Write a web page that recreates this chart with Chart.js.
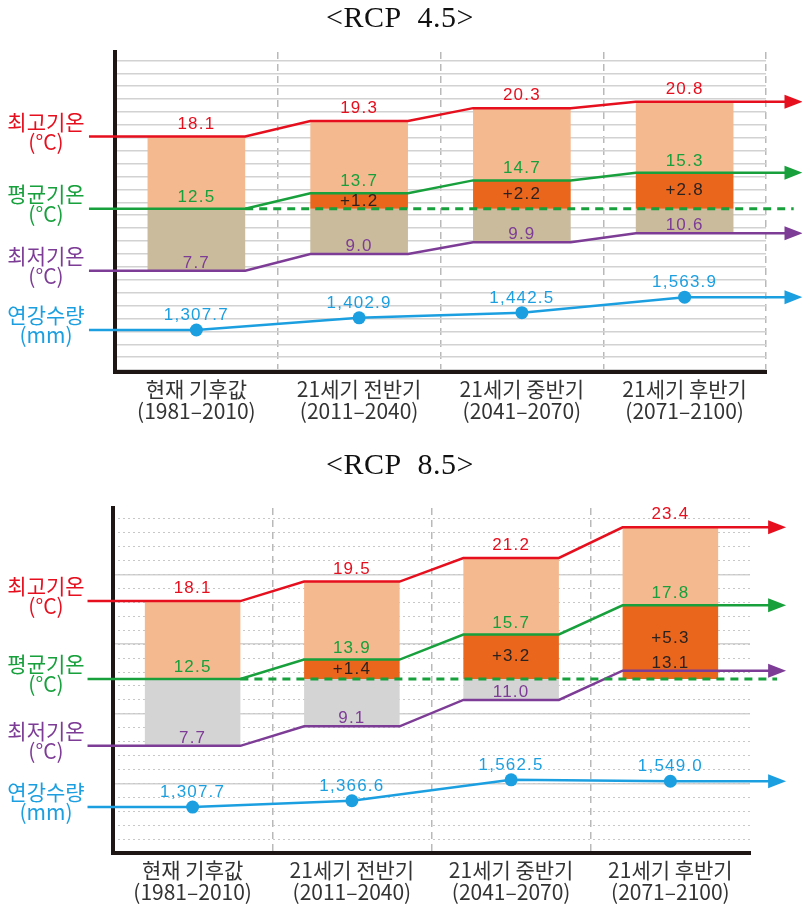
<!DOCTYPE html>
<html>
<head>
<meta charset="utf-8">
<script src="https://cdn.jsdelivr.net/npm/chart.js@4.4.1/dist/chart.umd.min.js"></script>
<style>
  body { margin: 0; background: #fff; }
  canvas { display: block; }
</style>
</head>
<body>
<canvas id="chart45" width="802" height="440"></canvas>
<canvas id="chart85" width="802" height="464"></canvas>
<script>
// 데이터
const categories = ['현재 기후값', '21세기 전반기', '21세기 중반기', '21세기 후반기'];
const periods = ['(1981–2010)', '(2011–2040)', '(2041–2070)', '(2071–2100)'];
const seriesNames = ['최고기온', '평균기온', '최저기온', '연강수량'];
const seriesUnits = ['(°C)', '(°C)', '(°C)', '(mm)'];

const rcp45Max = [18.1, 19.3, 20.3, 20.8];
const rcp45Mean = [12.5, 13.7, 14.7, 15.3];
const rcp45Min = [7.7, 9.0, 9.9, 10.6];
const rcp45Rain = [1307.7, 1402.9, 1442.5, 1563.9];

const rcp85Max = [18.1, 19.5, 21.2, 23.4];
const rcp85Mean = [12.5, 13.9, 15.7, 17.8];
const rcp85Min = [7.7, 9.1, 11.0, 13.1];
const rcp85Rain = [1307.7, 1366.6, 1562.5, 1549.0];

// 색상
const RED = '#e60f1e', GREEN = '#17a03c', PURPLE = '#7d3c96', BLUE = '#1c9fe0';
const PEACH = '#f5b98f', ORANGE = '#ea661c';
const AXIS_BLACK = '#1e1614';
const KR_FONT = '21px "Noto Sans CJK KR"';
const NUM_FONT = '17px "Liberation Sans"';

// 선이 막대 밖으로 뻗는 위치 (x축 단위)
const X_START = -0.16, X_END = 4.12, HALF = 0.3;

function stepPoints(vals) {
  const pts = [{x: X_START, y: vals[0]}];
  vals.forEach((v, i) => {
    if (i > 0) pts.push({x: i + 0.5 - HALF, y: v});
    if (i < vals.length - 1) pts.push({x: i + 0.5 + HALF, y: v});
  });
  pts.push({x: X_END, y: vals[vals.length - 1]});
  return pts;
}

function put(ctx, str, x, y, color, font, baseline, spacing) {
  ctx.save();
  ctx.font = font;
  ctx.fillStyle = color;
  ctx.textAlign = 'center';
  ctx.textBaseline = baseline || 'alphabetic';
  ctx.letterSpacing = spacing || '1.2px';
  ctx.fillText(str, x, y);
  ctx.restore();
}

function lineSet(data, color, yAxisID, extra) {
  return Object.assign({
    type: 'line', data: data, xAxisID: 'x', yAxisID: yAxisID,
    borderColor: color, backgroundColor: color, borderWidth: 2.5,
    pointRadius: 0, tension: 0, clip: false, order: 0
  }, extra || {});
}

function makeChart(canvasId, p) {
  const base = p.mean[0];
  const centers = p.mean.map((v, i) => i + 0.5);

  const peach = p.mean.map((m, i) => ({x: centers[i], y: [m, p.max[i]]}));
  const rise = p.mean.map((m, i) => ({x: centers[i], y: [base, m]})).filter((d, i) => i > 0);
  const low = p.min.map((m, i) => ({x: centers[i], y: [m, base]})).filter(d => d.y[0] < base);
  const rainPts = [{x: X_START, y: p.rain[0]}]
    .concat(p.rain.map((v, i) => ({x: centers[i], y: v})))
    .concat([{x: X_END, y: p.rain[p.rain.length - 1]}]);
  const lastRain = rainPts.length - 1;

  const overlay = {
    id: 'overlay',
    afterDatasetsDraw(chart) {
      const ctx = chart.ctx;
      const xs = chart.scales.x, ys = chart.scales.y, yr = chart.scales.y2;

      // 제목
      put(ctx, p.title, 400, p.titleY, '#111', '30px "Liberation Serif"', 'middle', '0.5px');

      // 화살표
      chart.data.datasets.forEach((ds, di) => {
        if (!ds.arrow) return;
        const pts = chart.getDatasetMeta(di).data;
        const end = pts[pts.length - 1];
        ctx.save();
        ctx.fillStyle = ds.borderColor;
        ctx.beginPath();
        ctx.moveTo(end.x - 1, end.y - 7);
        ctx.lineTo(end.x + 17, end.y);
        ctx.lineTo(end.x - 1, end.y + 7);
        ctx.closePath();
        ctx.fill();
        ctx.restore();
      });

      // 왼쪽 범례 글자
      const lefts = [[p.max[0], RED, ys], [p.mean[0], GREEN, ys], [p.min[0], PURPLE, ys], [p.rain[0], BLUE, yr]];
      lefts.forEach(([v, c, sc], k) => {
        const py = sc.getPixelForValue(v);
        put(ctx, seriesNames[k], 46, py - 15, c, KR_FONT, 'middle', '0px');
        put(ctx, seriesUnits[k], 46, py + 5, c, KR_FONT, 'middle', '0px');
      });

      // 값 라벨
      centers.forEach((c, i) => {
        const px = xs.getPixelForValue(c);
        put(ctx, p.max[i].toFixed(1), px, ys.getPixelForValue(p.max[i]) - 8, RED, NUM_FONT);
        put(ctx, p.mean[i].toFixed(1), px, ys.getPixelForValue(p.mean[i]) - 7, GREEN, NUM_FONT);
        const minColor = p.min[i] > base ? '#2b2220' : PURPLE;
        put(ctx, p.min[i].toFixed(1), px, ys.getPixelForValue(p.min[i]) - 3, minColor, NUM_FONT);
        const rainTxt = p.rain[i].toLocaleString('en-US', {minimumFractionDigits: 1, maximumFractionDigits: 1});
        put(ctx, rainTxt, px, yr.getPixelForValue(p.rain[i]) - 10, BLUE, NUM_FONT);
        if (i > 0) {
          const bottom = Math.max(base, p.min[i]);
          const mid = (ys.getPixelForValue(p.mean[i]) + ys.getPixelForValue(bottom)) / 2;
          put(ctx, '+' + (p.mean[i] - base).toFixed(1), px, mid, '#2b2220', NUM_FONT, 'middle');
        }
      });
    }
  };

  const noWidth = axis => { axis.width = 0; };
  const gridScales = {
    y: {
      axis: 'y', position: 'left', min: p.tMin, max: p.tMax, afterFit: noWidth,
      ticks: { display: false, stepSize: p.majorStep, includeBounds: false },
      grid: { color: '#d2d2d2', lineWidth: 1.5, drawTicks: false },
      border: { color: AXIS_BLACK, width: 4 }
    }
  };
  if (p.minorStep) {
    gridScales.yd = {
      axis: 'y', position: 'left', min: p.tMin, max: p.tMax, afterFit: noWidth,
      ticks: { display: false, stepSize: p.minorStep, includeBounds: false },
      grid: { color: '#c8c8c8', lineWidth: 1, drawTicks: false },
      border: { display: false, dash: [2, 3] }
    };
  }

  return new Chart(document.getElementById(canvasId), {
    data: {
      datasets: [
        lineSet(stepPoints(p.max), RED, 'y', { arrow: true }),
        lineSet(stepPoints(p.mean), GREEN, 'y', { arrow: true }),
        lineSet([{x: 0.8, y: base}, {x: 4.17, y: base}], GREEN, 'y', { borderWidth: 3, borderDash: [8, 6] }),
        lineSet(stepPoints(p.min), PURPLE, 'y', { arrow: true }),
        lineSet(rainPts, BLUE, 'y2', {
          arrow: true,
          pointRadius: ctx => (ctx.dataIndex === 0 || ctx.dataIndex === lastRain) ? 0 : 6.5,
          pointBorderWidth: 0
        }),
        { type: 'bar', data: peach, xAxisID: 'x', yAxisID: 'y', backgroundColor: PEACH, order: 1 },
        { type: 'bar', data: rise, xAxisID: 'x', yAxisID: 'y', backgroundColor: ORANGE, order: 1 },
        { type: 'bar', data: low, xAxisID: 'x', yAxisID: 'y', backgroundColor: p.lowColor, order: 1 }
      ]
    },
    options: {
      responsive: false,
      animation: false,
      events: [],
      layout: { padding: { left: p.left, right: 802 - p.right, top: p.top, bottom: 0 } },
      datasets: { bar: { grouped: false, categoryPercentage: 1, barPercentage: 0.6, borderWidth: 0 } },
      plugins: {
        legend: { display: false },
        tooltip: { enabled: false },
        title: { display: false }
      },
      scales: Object.assign({
        x: {
          type: 'linear', axis: 'x', position: 'bottom', min: 0, max: 4, offset: false,
          afterBuildTicks: axis => { axis.ticks = centers.map(v => ({ value: v })); },
          afterFit: axis => { axis.height = p.axisHeight; },
          ticks: {
            callback: (value, index) => [categories[index], periods[index]],
            font: { family: 'Noto Sans CJK KR', size: 21, lineHeight: 1.02 },
            color: '#333', padding: p.labelPad, maxRotation: 0, autoSkip: false
          },
          grid: { display: false, offset: false },
          border: { color: AXIS_BLACK, width: 4 }
        },
        xg: {
          type: 'linear', axis: 'x', position: 'bottom', min: 0, max: 4, offset: false,
          afterFit: axis => { axis.height = 0; },
          ticks: { display: false, stepSize: 1 },
          grid: {
            drawTicks: false, lineWidth: 1.5, offset: false,
            color: ctx => (ctx.tick.value === 0 || (p.hideLastDash && ctx.tick.value === 4)) ? 'rgba(0,0,0,0)' : '#b9b9b9'
          },
          border: { display: false, dash: [7, 5] }
        },
        y2: { axis: 'y', display: false, min: p.rMin, max: p.rMax }
      }, gridScales)
    },
    plugins: [overlay]
  });
}

makeChart('chart45', {
  title: '<RCP  4.5>', titleY: 19, max: rcp45Max, mean: rcp45Mean, min: rcp45Min, rain: rcp45Rain,
  lowColor: '#c9bb9c', tMin: -0.15, tMax: 24.65, rMin: 980, rMax: 3476,
  majorStep: 1, minorStep: null, hideLastDash: false,
  left: 115, right: 766, top: 52, axisHeight: 68, labelPad: -1.5
});

makeChart('chart85', {
  title: '<RCP  8.5>', titleY: 26, max: rcp85Max, mean: rcp85Mean, min: rcp85Min, rain: rcp85Rain,
  lowColor: '#d4d4d4', tMin: 0, tMax: 24.79, rMin: 879, rMax: 4100,
  majorStep: 5, minorStep: 1, hideLastDash: true,
  left: 113, right: 750, top: 68, axisHeight: 51, labelPad: -1.5
});
</script>
</body>
</html>
